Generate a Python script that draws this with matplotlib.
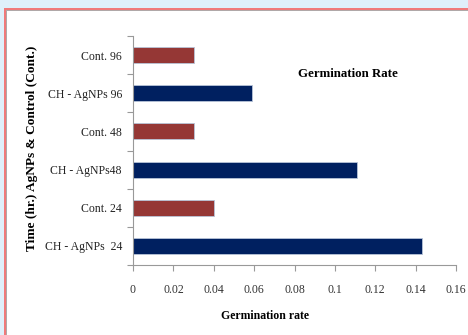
import matplotlib.pyplot as plt
from matplotlib.patches import Rectangle

# bottom to top
labels = ["CH - AgNPs  24", "Cont. 24", "CH - AgNPs48", "Cont. 48", "CH - AgNPs 96", "Cont. 96"]
rates = [0.143, 0.040, 0.111, 0.030, 0.059, 0.030]
bar_colors = ["#002060", "#953735", "#002060", "#953735", "#002060", "#953735"]
xticks = [0, 0.02, 0.04, 0.06, 0.08, 0.1, 0.12, 0.14, 0.16]
xtick_labels = ["0", "0.02", "0.04", "0.06", "0.08", "0.1", "0.12", "0.14", "0.16"]

plt.rcParams["font.family"] = ["Liberation Serif", "DejaVu Serif"]

W, H = 468, 335
fig = plt.figure(figsize=(W / 100, H / 100), dpi=100)
fig.patch.set_facecolor("#dff0fa")

# panel frame: white card with a salmon edge on the top and left
fig.patches.append(Rectangle((4 / W, 0), 1, 1 - 8 / H, transform=fig.transFigure,
                             facecolor="#f07a7a", edgecolor="none", zorder=-10))
fig.patches.append(Rectangle((6 / W, 0), 1, 1 - 10 / H, transform=fig.transFigure,
                             facecolor="#b0a8a8", edgecolor="none", zorder=-9))
fig.patches.append(Rectangle((7 / W, 0), 1, 1 - 11 / H, transform=fig.transFigure,
                             facecolor="white", edgecolor="none", zorder=-8))

ax = fig.add_axes([133 / W, 1 - 265 / H, (456 - 133) / W, (265 - 36) / H])
ax.set_facecolor("none")

ypos = list(range(len(labels)))
ax.barh(ypos, rates, height=0.42, color=bar_colors, edgecolor="#b8c4d8", linewidth=0.6)

ax.set_xlim(0, 0.16)
ax.set_ylim(-0.5, len(labels) - 0.5)
ax.set_xticks(xticks)
ax.set_xticklabels(xtick_labels, fontsize=8.5, color="#333333")
ax.set_yticks(ypos)
ax.set_yticklabels(labels, fontsize=8.5, color="#222222")
# category boundary ticks on the y axis
ax.set_yticks([y - 0.5 for y in ypos] + [len(labels) - 0.5], minor=True)
ax.tick_params(axis="y", which="major", length=0, pad=8)
ax.tick_params(axis="y", which="minor", length=4, color="#999999", width=0.8)
ax.tick_params(axis="x", length=4, color="#999999", width=0.8, pad=10)

for side in ["top", "right"]:
    ax.spines[side].set_visible(False)
for side in ["left", "bottom"]:
    ax.spines[side].set_color("#999999")
    ax.spines[side].set_linewidth(0.8)

# axis titles and chart title placed in pixel coordinates
fig.text(265 / W, 1 - 316 / H, "Germination rate", fontsize=8.5, fontweight="bold",
         ha="center", va="center")
fig.text(32 / W, 1 - 148 / H, "Time (hr.) AgNPs & Control (Cont.)", fontsize=9.6,
         fontweight="bold", rotation=90, ha="center", va="center")
fig.text(348 / W, 1 - 74 / H, "Germination Rate", fontsize=9.3, fontweight="bold",
         ha="center", va="center")

fig.savefig("out.png", dpi=100, facecolor=fig.get_facecolor())
